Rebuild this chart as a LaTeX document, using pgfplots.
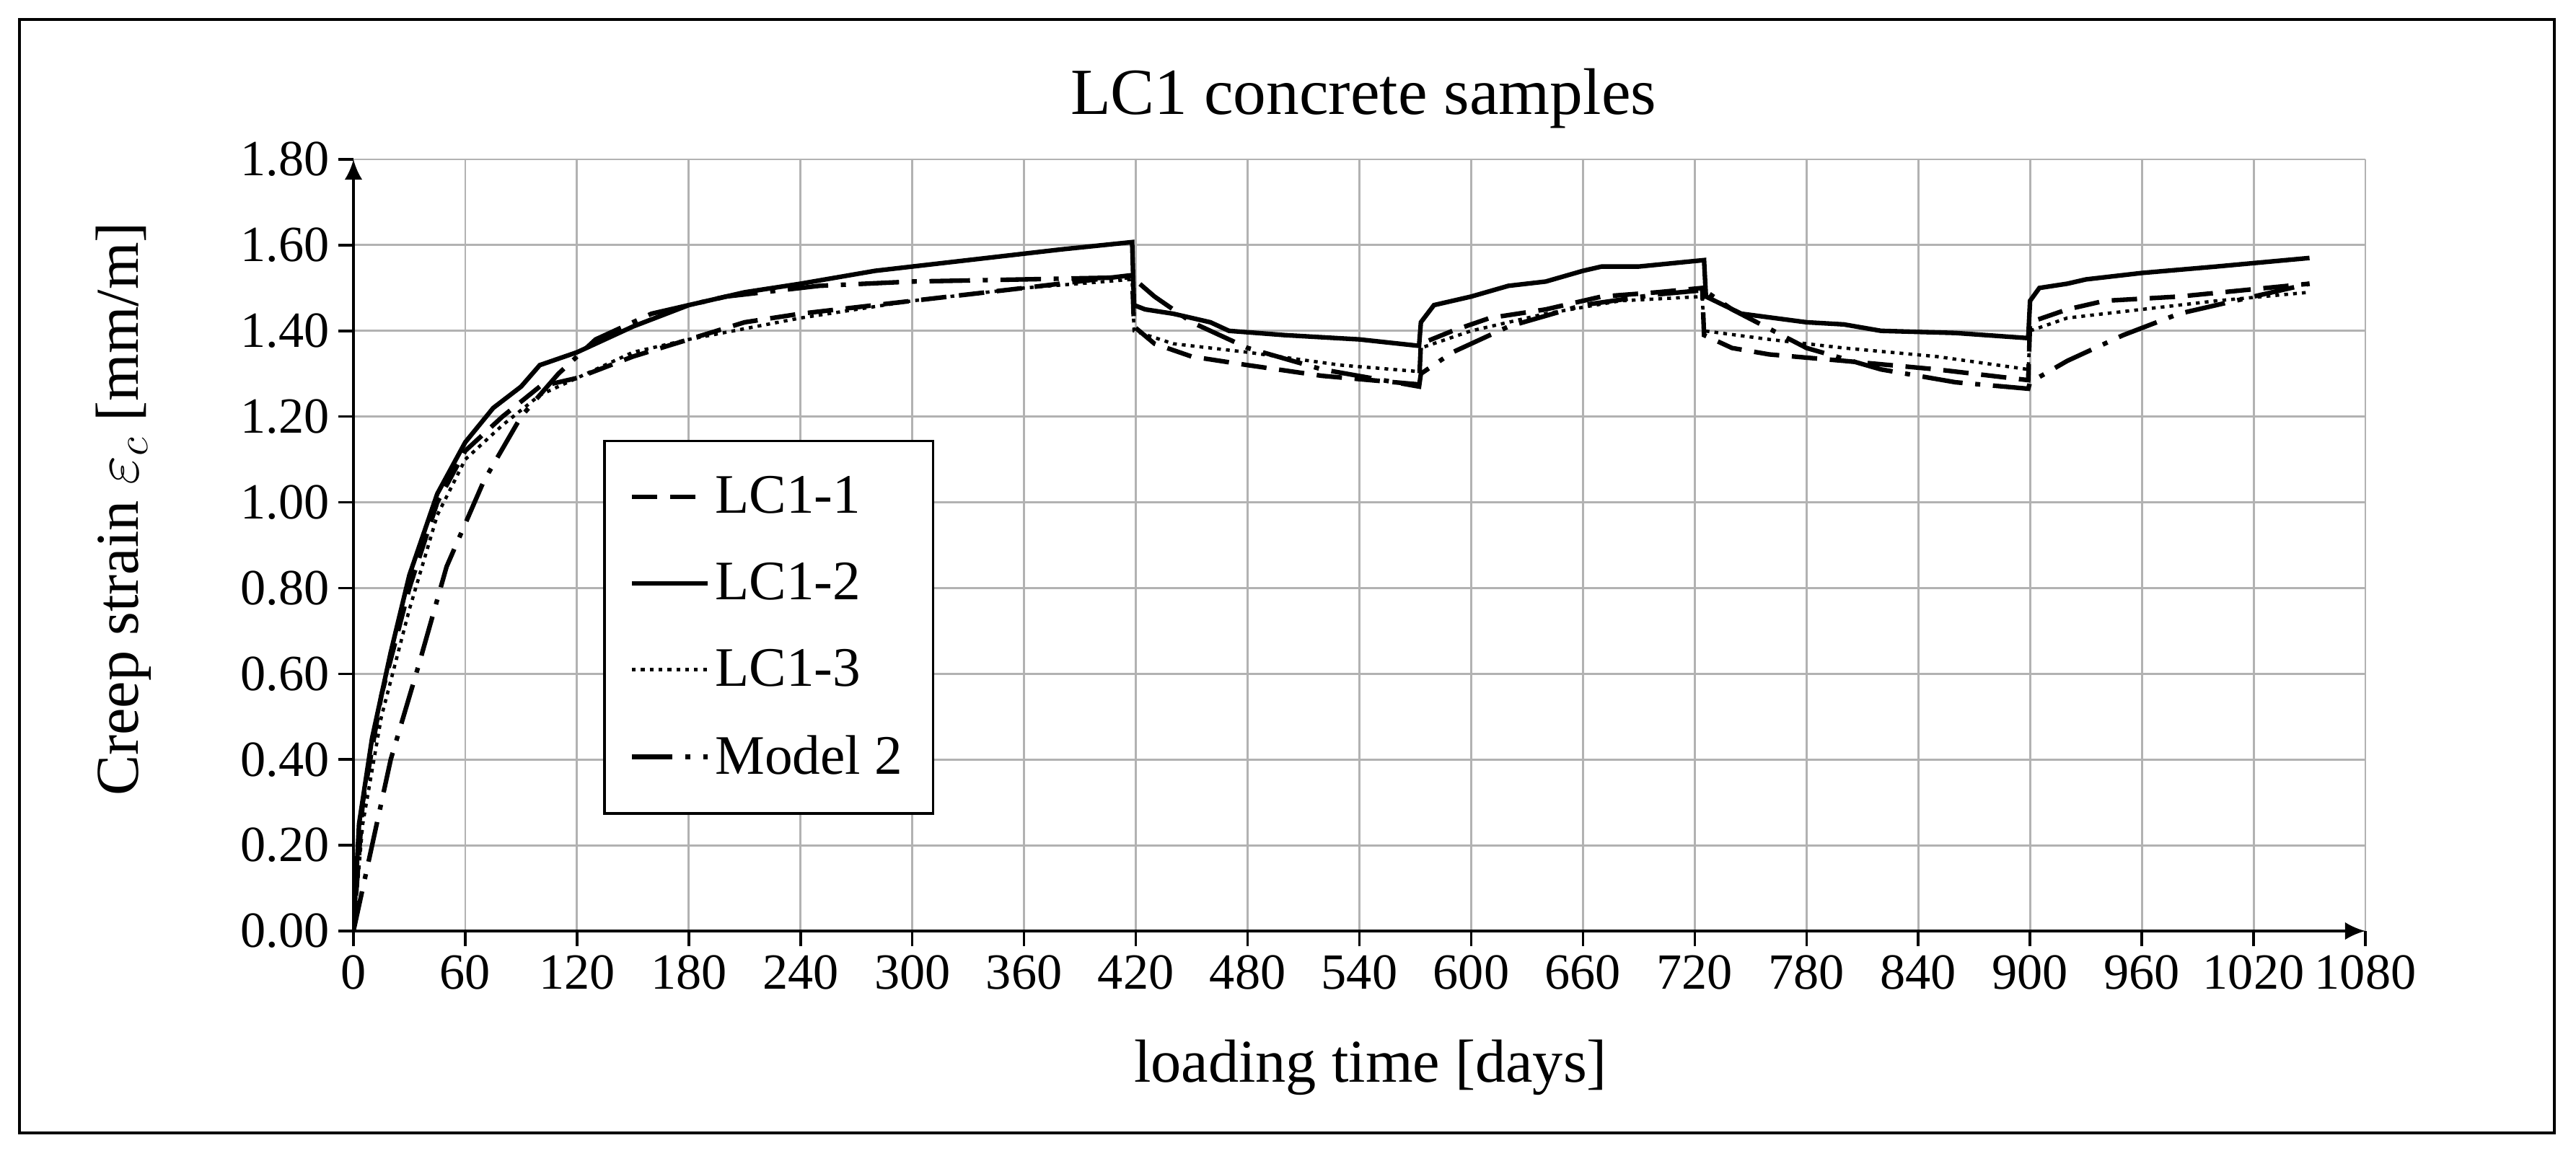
\documentclass[border=0pt]{standalone}
\usepackage{fontspec}
\setmainfont{Liberation Serif}
\usepackage{pgfplots}
\pgfplotsset{compat=1.18}
\usetikzlibrary{arrows.meta}
\begin{document}
\begin{tikzpicture}
\useasboundingbox (0,0) rectangle (35.71,16.02);
\draw[line width=1pt] (0.27,0.31) rectangle (35.41,15.75);
\node[font=\fontsize{26}{30}\selectfont] at (18.9,14.65) {LC1 concrete samples};
\node[font=\fontsize{24}{28}\selectfont] at (19.0,1.22) {loading time [days]};
\node[font=\fontsize{24}{28}\selectfont,rotate=90] at (1.71,8.96) {Creep strain $\varepsilon_c$ [mm/m]};
\begin{axis}[
  at={(4.90cm,3.11cm)}, anchor=origin, scale only axis,
  width=27.89cm, height=10.70cm,
  xmin=0, xmax=1080, ymin=0, ymax=1.8,
  axis lines=left, axis line style={line width=1.2pt,-{Latex[length=8pt,width=7pt]}},
  xtick={0,60,...,1080}, ytick={0,0.2,...,1.81},
  grid=major, major grid style={gray!60,line width=0.8pt},
  tick style={black,line width=1pt}, tick align=outside, major tick length=6pt,
  /pgf/number format/assume math mode=true,
  yticklabel style={/pgf/number format/.cd,fixed,fixed zerofill,precision=2},
  xticklabel style={/pgf/number format/1000 sep={}},
  ticklabel style={font=\fontsize{20}{24}\selectfont},
  legend style={at={(axis cs:134,1.146)}, anchor=north west, draw=black, line width=1pt,
    font=\fontsize{22}{26}\selectfont, row sep=14pt, inner xsep=10pt, inner ysep=12pt},
  legend cell align=left,
  legend image code/.code={\draw[#1] (0cm,0cm) -- (1.05cm,0cm);},
]
\addplot[black, line width=1.8pt, dash pattern=on 10pt off 5pt] coordinates {
(0,0) (5,0.3) (15,0.55) (30,0.8) (45,1.0) (60,1.12) (80,1.2) (100,1.27) (120,1.29) (150,1.34) (180,1.38) (210,1.42) (240,1.44) (300,1.47) (360,1.50) (418,1.53) (419,1.41) (430,1.37) (450,1.34) (480,1.32) (520,1.295) (572,1.275) (573,1.37) (590,1.40) (610,1.43) (640,1.45) (670,1.48) (700,1.49) (724,1.50) (725,1.39) (740,1.36) (760,1.345) (800,1.33) (850,1.31) (899,1.285) (900,1.42) (920,1.45) (940,1.47) (980,1.48) (1050,1.51)};
\addlegendentry{LC1-1}
\addplot[black, line width=1.8pt] coordinates {
(0,0) (3,0.25) (10,0.45) (20,0.65) (30,0.83) (45,1.02) (60,1.14) (75,1.22) (90,1.27) (100,1.32) (120,1.35) (150,1.41) (180,1.46) (210,1.49) (240,1.51) (280,1.54) (330,1.565) (380,1.59) (418,1.607) (419,1.46) (425,1.45) (440,1.44) (460,1.42) (470,1.40) (500,1.39) (540,1.38) (572,1.365) (573,1.42) (580,1.46) (600,1.48) (620,1.505) (640,1.515) (660,1.54) (670,1.55) (690,1.55) (725,1.565) (726,1.48) (745,1.44) (780,1.42) (800,1.415) (820,1.40) (860,1.395) (899,1.383) (900,1.47) (905,1.50) (920,1.51) (930,1.52) (960,1.535) (1000,1.55) (1050,1.57)};
\addlegendentry{LC1-2}
\addplot[black, line width=1.3pt, dash pattern=on 1.5pt off 2pt] coordinates {
(0,0) (5,0.25) (15,0.5) (30,0.75) (45,0.97) (60,1.10) (80,1.18) (100,1.25) (120,1.29) (150,1.35) (180,1.38) (240,1.43) (300,1.47) (360,1.50) (418,1.52) (419,1.40) (440,1.37) (480,1.35) (530,1.32) (572,1.305) (573,1.36) (600,1.40) (640,1.44) (680,1.47) (724,1.48) (725,1.40) (760,1.38) (800,1.36) (850,1.34) (899,1.31) (900,1.40) (920,1.43) (960,1.45) (1000,1.47) (1050,1.49)};
\addlegendentry{LC1-3}
\addplot[black, line width=1.8pt, dash pattern=on 16pt off 5pt on 2pt off 5pt] coordinates {
(0,0) (10,0.2) (20,0.4) (35,0.62) (50,0.85) (70,1.05) (90,1.2) (110,1.30) (130,1.38) (160,1.44) (200,1.48) (250,1.505) (300,1.515) (360,1.52) (418,1.525) (430,1.48) (450,1.42) (480,1.36) (520,1.31) (572,1.27) (573,1.30) (590,1.35) (620,1.41) (660,1.46) (700,1.485) (725,1.495) (740,1.45) (780,1.36) (820,1.31) (860,1.28) (899,1.265) (900,1.28) (920,1.33) (950,1.39) (980,1.44) (1050,1.51)};
\addlegendentry{Model 2}
\end{axis}
\end{tikzpicture}
\end{document}
